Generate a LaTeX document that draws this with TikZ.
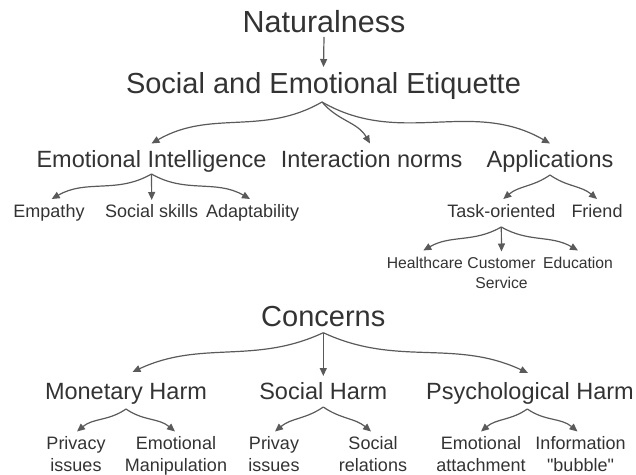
\documentclass[tikz,border=0pt]{standalone}
\usepackage{fontspec}
\setmainfont{Liberation Sans}
\newfontfamily\plainqf{Liberation Sans}
\usetikzlibrary{arrows.meta}
\definecolor{txt}{HTML}{333333}
\definecolor{lnk}{HTML}{5A5A5A}
\newcommand\twol[2]{\begin{tabular}[t]{@{}c@{}}#1\\#2\end{tabular}}
\tikzset{
  lbl/.style={inner sep=0pt, anchor=base, text=txt},
  tA/.style={lbl, font=\fontsize{30.5}{36}\selectfont},
  tB/.style={lbl, font=\fontsize{29}{34}\selectfont},
  tC/.style={lbl, font=\fontsize{23.5}{28}\selectfont},
  tD/.style={lbl, font=\fontsize{18}{22}\selectfont},
  tE/.style={lbl, font=\fontsize{15.7}{20}\selectfont},
  conn/.style={draw=lnk, line width=1.2pt, -{Triangle[length=8pt,width=7pt]}},
}
\begin{document}
\begin{tikzpicture}[x=1pt,y=1pt]
\useasboundingbox (0,0) rectangle (636,474);
% upper tree
\node[tA] (nat) at (324,441) {Naturalness};
\node[tB] (ses) at (323.5,380) {Social and Emotional Etiquette};
\node[tC] (ei) at (151.5,306) {Emotional Intelligence};
\node[tC] (inn) at (371.7,306) {Interaction norms};
\node[tC] (app) at (550,306) {Applications};
\node[tD] (emp) at (49,256) {Empathy};
\node[tD] (soc) at (151.7,256) {Social skills};
\node[tD] (ada) at (252.6,256) {Adaptability};
\node[tD] (task) at (501.3,256) {Task-oriented};
\node[tD] (fri) at (597,256) {Friend};
\node[tE] (hea) at (424.8,205.5) {Healthcare};
\node[tE] (cus) at (501.5,205.5) {\twol{Customer}{Service}};
\node[tE] (edu) at (578,205.5) {Education};
% lower tree
\node[tB] (con) at (323.3,147.3) {Concerns};
\node[tC] (mh) at (126,75) {Monetary Harm};
\node[tC] (sh) at (323.3,75) {Social Harm};
\node[tC] (ph) at (530,75) {Psychological Harm};
\node[tD] (pr1) at (76,25) {\twol{Privacy}{issues}};
\node[tD] (em1) at (176,25) {\twol{Emotional}{Manipulation}};
\node[tD] (pr2) at (274,25) {\twol{Privay}{issues}};
\node[tD] (sr) at (373,25) {\twol{Social}{relations}};
\node[tD] (ea) at (481,25) {\twol{Emotional}{attachment}};
\node[tD] (ib) at (580.5,25) {\twol{Information}{\plainqf"bubble"}};
% connectors
\draw[conn] ([yshift=-4pt]nat.base) -- ([yshift=27pt]ses.base);
\draw[conn] ([xshift=-1.5pt,yshift=-8pt]ses.base) to[out=-150,in=30] ([yshift=24.5pt]ei.base);
\draw[conn] ([xshift=-1.5pt,yshift=-8pt]ses.base) to[out=-50,in=120] ([xshift=-1.7pt,yshift=24.5pt]inn.base);
\draw[conn] ([xshift=-1.5pt,yshift=-8pt]ses.base) to[out=-30,in=150] ([yshift=24.5pt]app.base);
\draw[conn] ([yshift=-6pt]ei.base) to[out=-150,in=30] ([xshift=2.7pt,yshift=19pt]emp.base);
\draw[conn] ([yshift=-6pt]ei.base) -- ([yshift=18pt]soc.base);
\draw[conn] ([yshift=-6pt]ei.base) to[out=-30,in=150] ([xshift=-2.6pt,yshift=19pt]ada.base);
\draw[conn] ([yshift=-7pt]app.base) to[out=-145,in=40] ([xshift=2pt,yshift=19pt]task.base);
\draw[conn] ([yshift=-7pt]app.base) to[out=-35,in=140] ([yshift=19pt]fri.base);
\draw[conn] ([yshift=-9pt]task.base) to[out=-150,in=30] ([xshift=-1.5pt,yshift=18pt]hea.base);
\draw[conn] ([yshift=-9pt]task.base) -- ([yshift=17pt]cus.base);
\draw[conn] ([yshift=-9pt]task.base) to[out=-30,in=150] ([yshift=18pt]edu.base);
\draw[conn] ([yshift=-6pt]con.base) to[out=-155,in=25] ([xshift=6.5pt,yshift=27pt]mh.base);
\draw[conn] ([yshift=-6pt]con.base) -- ([yshift=23pt]sh.base);
\draw[conn] ([yshift=-6pt]con.base) to[out=-25,in=155] ([xshift=-2pt,yshift=26pt]ph.base);
\draw[conn] ([yshift=-10pt]mh.base) to[out=-145,in=40] ([xshift=1pt,yshift=17.5pt]pr1.base);
\draw[conn] ([yshift=-10pt]mh.base) to[out=-35,in=140] ([xshift=-1pt,yshift=17.5pt]em1.base);
\draw[conn] ([yshift=-8pt]sh.base) to[out=-145,in=40] ([xshift=1pt,yshift=17.5pt]pr2.base);
\draw[conn] ([yshift=-8pt]sh.base) to[out=-35,in=140] ([xshift=-2pt,yshift=17.5pt]sr.base);
\draw[conn] ([xshift=-2.7pt,yshift=-10pt]ph.base) to[out=-145,in=40] ([yshift=17.5pt]ea.base);
\draw[conn] ([xshift=-2.7pt,yshift=-10pt]ph.base) to[out=-35,in=140] ([xshift=-3pt,yshift=17.5pt]ib.base);
\end{tikzpicture}
\end{document}
